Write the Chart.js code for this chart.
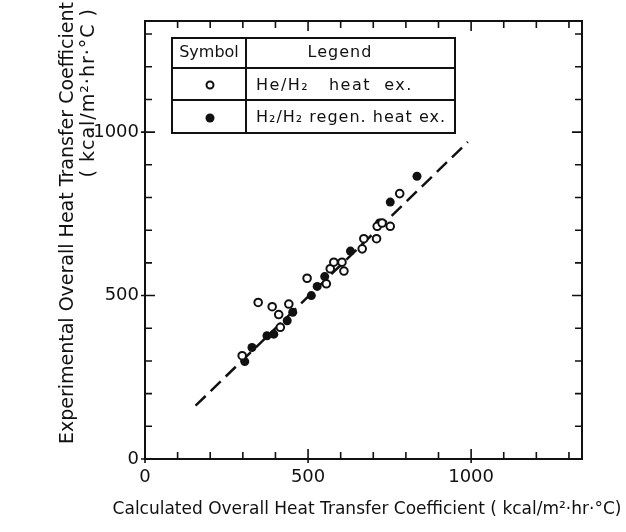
<!DOCTYPE html>
<html>
<head>
<meta charset="utf-8">
<script src="https://cdn.jsdelivr.net/npm/chart.js@4.4.1/dist/chart.umd.min.js"></script>
<style>
  html, body { margin: 0; padding: 0; background: #fff; }
  canvas { display: block; }
</style>
</head>
<body>
<canvas id="chart" width="626" height="532"></canvas>
<script>
// He/H2 heat ex. (open circles): calculated vs experimental
const heCalc = [298, 347, 390, 410, 415, 441, 497, 556, 568, 579, 604, 610, 666, 671, 710, 712, 727, 752, 781];
const heExp  = [316, 479, 466, 442, 403, 474, 553, 536, 582, 602, 602, 575, 643, 674, 674, 712, 722, 712, 812];

// H2/H2 regen. heat ex. (filled circles)
const regenCalc = [306, 328, 374, 395, 436, 453, 510, 528, 551, 630, 719, 752, 834];
const regenExp  = [298, 341, 377, 382, 423, 449, 500, 528, 558, 636, 722, 786, 865];

// dashed line ends
const lineCalc = [155, 990];
const lineExp  = [163, 970];

const axisMax = 1340;
const tickStep = 100;
const labelStep = 500;

const xTitle = 'Calculated Overall Heat Transfer Coefficient ( kcal/m²·hr·°C)';
const yTitle = ['Experimental Overall Heat Transfer Coefficient', '( kcal/m²·hr·°C )'];
const legendHeader = ['Symbol', 'Legend'];
const legendRows = ['He/H₂   heat  ex.', 'H₂/H₂ regen. heat ex.'];

const ink = '#111';
const zip = (xs, ys) => xs.map((x, i) => ({ x: x, y: ys[i] }));

// frame, inward ticks, legend table and axis titles
const decorations = {
  id: 'decorations',
  afterDraw(chart) {
    const ctx = chart.ctx;
    const a = chart.chartArea;
    const xs = chart.scales.x;
    const ys = chart.scales.y;
    ctx.save();
    ctx.strokeStyle = ink;
    ctx.fillStyle = ink;
    ctx.lineWidth = 2;
    ctx.strokeRect(a.left, a.top, a.right - a.left, a.bottom - a.top);

    ctx.lineWidth = 1.6;
    for (let v = 0; v < axisMax; v += tickStep) {
      const major = v % labelStep === 0;
      const len = major ? 10 : 7;
      const out = major ? 4 : 0;
      const px = xs.getPixelForValue(v);
      const py = ys.getPixelForValue(v);
      ctx.beginPath();
      ctx.moveTo(px, a.bottom + out); ctx.lineTo(px, a.bottom - len);
      ctx.moveTo(px, a.top); ctx.lineTo(px, a.top + len);
      ctx.moveTo(a.left - out, py); ctx.lineTo(a.left + len, py);
      ctx.moveTo(a.right, py); ctx.lineTo(a.right - len, py);
      ctx.stroke();
    }

    // legend table
    const t = { l: 172, r: 455, t: 38, b: 133, col: 246, rows: [68, 100] };
    ctx.lineWidth = 2;
    ctx.strokeRect(t.l, t.t, t.r - t.l, t.b - t.t);
    ctx.beginPath();
    ctx.moveTo(t.col, t.t); ctx.lineTo(t.col, t.b);
    t.rows.forEach(y => { ctx.moveTo(t.l, y); ctx.lineTo(t.r, y); });
    ctx.stroke();

    ctx.font = '16px "DejaVu Sans"';
    ctx.textBaseline = 'middle';
    ctx.textAlign = 'center';
    ctx.fillText(legendHeader[0], (t.l + t.col) / 2, 53);
    ctx.letterSpacing = '1px';
    ctx.fillText(legendHeader[1], 340, 53);
    ctx.textAlign = 'left';
    ctx.letterSpacing = '1.5px';
    ctx.fillText(legendRows[0], 256, 86);
    ctx.letterSpacing = '1px';
    ctx.fillText(legendRows[1], 256, 118);
    ctx.letterSpacing = '0px';

    ctx.lineWidth = 2;
    ctx.beginPath();
    ctx.arc(210, 85, 3.5, 0, Math.PI * 2);
    ctx.fillStyle = '#fff';
    ctx.fill();
    ctx.stroke();
    ctx.fillStyle = ink;
    ctx.beginPath();
    ctx.arc(210, 118, 4.5, 0, Math.PI * 2);
    ctx.fill();

    // axis titles
    ctx.font = '17px "DejaVu Sans"';
    ctx.textAlign = 'center';
    ctx.fillText(xTitle, 367, 510);

    ctx.font = '19px "DejaVu Sans"';
    ctx.textAlign = 'right';
    ctx.save();
    ctx.translate(68, 2);
    ctx.rotate(-Math.PI / 2);
    ctx.fillText(yTitle[0], 0, 0);
    ctx.restore();
    ctx.save();
    ctx.translate(89, 8);
    ctx.rotate(-Math.PI / 2);
    ctx.letterSpacing = '1px';
    ctx.fillText(yTitle[1], 0, 0);
    ctx.letterSpacing = '0px';
    ctx.restore();
    ctx.restore();
  }
};

const tickLabel = v => (v % labelStep === 0 ? String(v) : '');

new Chart(document.getElementById('chart'), {
  type: 'scatter',
  data: {
    datasets: [
      {
        label: legendRows[0],
        data: zip(heCalc, heExp),
        pointStyle: 'circle',
        pointRadius: 3.8,
        pointBorderWidth: 2,
        pointBackgroundColor: '#fff',
        pointBorderColor: ink,
        order: 1
      },
      {
        label: legendRows[1],
        data: zip(regenCalc, regenExp),
        pointStyle: 'circle',
        pointRadius: 4.5,
        pointBorderWidth: 0,
        pointBackgroundColor: ink,
        pointBorderColor: ink,
        order: 1
      },
      {
        type: 'line',
        label: 'line',
        data: zip(lineCalc, lineExp),
        borderColor: ink,
        borderWidth: 2.5,
        borderDash: [14, 7],
        pointRadius: 0,
        fill: false,
        order: 2
      }
    ]
  },
  options: {
    responsive: false,
    animation: false,
    layout: { padding: { top: 21, right: 44, left: 0, bottom: 0 } },
    plugins: {
      legend: { display: false },
      tooltip: { enabled: false }
    },
    scales: {
      x: {
        type: 'linear',
        min: 0,
        max: axisMax,
        grid: { display: false, drawTicks: false },
        border: { display: false },
        afterFit: s => { s.height = 73; },
        ticks: {
          stepSize: tickStep,
          autoSkip: false,
          maxRotation: 0,
          padding: 8,
          color: ink,
          font: { family: 'DejaVu Sans', size: 18 },
          callback: tickLabel
        }
      },
      y: {
        type: 'linear',
        min: 0,
        max: axisMax,
        grid: { display: false, drawTicks: false },
        border: { display: false },
        afterFit: s => { s.width = 145; },
        ticks: {
          stepSize: tickStep,
          autoSkip: false,
          padding: 6,
          color: ink,
          font: { family: 'DejaVu Sans', size: 18 },
          callback: tickLabel
        }
      }
    }
  },
  plugins: [decorations]
});
</script>
</body>
</html>
